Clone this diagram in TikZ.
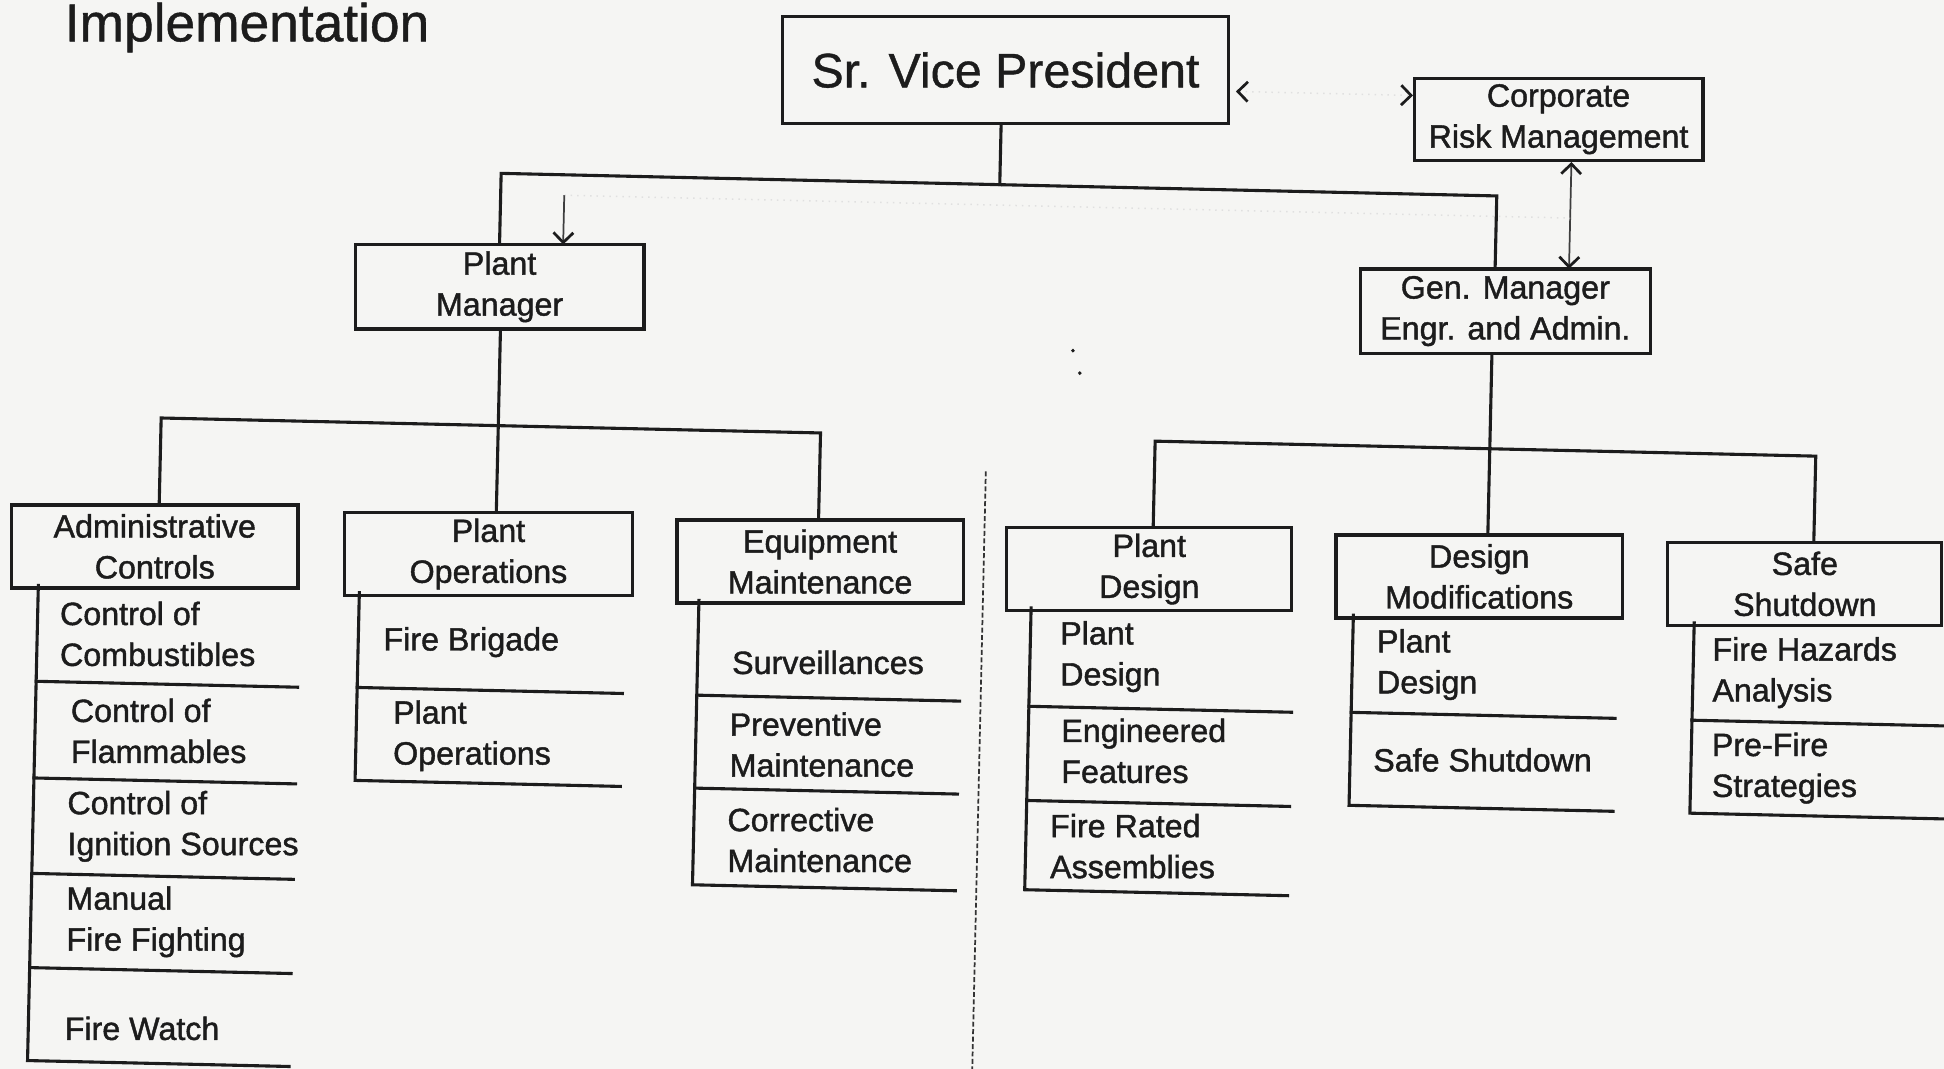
\documentclass[tikz,border=0pt]{standalone}
\usepackage{fontspec}
\setmainfont{Liberation Sans}
\newfontfamily\heavysans{Liberation Sans}[FakeBold=1.3]
\newfontfamily\midsans{Liberation Sans}[FakeBold=0.8]
\usetikzlibrary{arrows.meta}

\newcommand{\lblfont}{\heavysans\fontsize{13}{16.5}\selectfont}
\newcommand{\vpfont}{\midsans\fontsize{19.5}{23}\selectfont}
\newcommand{\ttlfont}{\midsans\fontsize{21.5}{25}\selectfont}

\definecolor{paper}{RGB}{245,245,243}
\definecolor{ink}{RGB}{28,28,28}

\tikzset{
  wire/.style={draw=ink, line width=1.25pt, line cap=rect},
  orgbox/.style={draw=ink, line width=1.3pt, fill=paper, align=center,
    inner sep=0pt, font=\lblfont, text=ink},
  item/.style={anchor=west, align=left, inner sep=0pt, font=\lblfont, text=ink},
  faintlink/.style={draw=black!12, line width=0.6pt, dotted},
  barb/.tip={Straight Barb[color=ink, line width=1.1pt, length=4pt, width=8pt]},
  thinlink/.style={draw=ink!85, line width=0.7pt},
  divider/.style={draw=ink!90, line width=0.7pt, dash pattern=on 2pt off 1pt}
}

\begin{document}
\begin{tikzpicture}[x=0.5pt, y=-0.5pt]
\useasboundingbox (0,0) rectangle (1568,862);
\clip (0,0) rectangle (1568,862);
\fill[paper] (0,0) rectangle (1568,862);

\begin{scope}[rotate around={-1.3:(784,431)}]

% heading
\node[anchor=base west, inner sep=0pt, font=\ttlfont, text=ink] (title)
  at (43,50) {Implementation};

% top level
\node[orgbox, font=\vpfont, minimum width=180pt, minimum height=43pt] (svp)
  at (802.5,56) {Sr. Vice President};
\node[orgbox, minimum width=116.5pt, minimum height=33pt] (crm)
  at (1249.4,85.5) {Corporate\\Risk Management};

% second level
\node[orgbox, minimum width=116.5pt, minimum height=34pt] (pm)
  at (398.5,240) {Plant\\Manager};
\node[orgbox, minimum width=117pt, minimum height=34pt] (gm)
  at (1210,241.2) {Gen. Manager\\Engr. and Admin.};

% third level
\node[orgbox, minimum width=115.5pt, minimum height=33.5pt] (ac)
  at (125.2,455.7) {Administrative\\Controls};
\node[orgbox, minimum width=116pt, minimum height=33.5pt] (po)
  at (394.4,455.7) {Plant\\Operations};
\node[orgbox, minimum width=115.5pt, minimum height=33.5pt] (eq)
  at (662,455.7) {Equipment\\Maintenance};
\node[orgbox, minimum width=115pt, minimum height=33.5pt] (pd)
  at (927.6,455.7) {Plant\\Design};
\node[orgbox, minimum width=115.5pt, minimum height=33.5pt] (dm)
  at (1193.8,455.7) {Design\\Modifications};
\node[orgbox, minimum width=110.5pt, minimum height=33.5pt] (ss)
  at (1456.5,455.7) {Safe\\Shutdown};

% reporting lines from the Sr. Vice President
\coordinate (j0) at (800,148.5);
\coordinate (jR) at (1201,148.5);
\draw[wire] (j0 |- svp.south) -- (j0);
\draw[wire] (pm.north) -- (pm.north |- j0) -- (jR) -- (jR |- gm.north);

% Plant Manager branch
\coordinate (kL) at (128,352);
\coordinate (kM) at (400,352);
\coordinate (kR) at (660,352);
\draw[wire] (kM |- pm.south) -- (kM |- po.north);
\draw[wire] (kL |- ac.north) -- (kL) -- (kR) -- (kR |- eq.north);

% Gen. Manager branch
\coordinate (mL) at (930,352.5);
\coordinate (mM) at (1200,352.5);
\coordinate (mR) at (1463,352.5);
\draw[wire] (mM |- gm.south) -- (mM |- dm.north);
\draw[wire] (mL |- pd.north) -- (mL) -- (mR) -- (mR |- ss.north);

% risk management links
\coordinate (lk) at (0,69);
\draw[faintlink, barb-barb] ([xshift=2.5pt]svp.east |- lk) -- (crm.west |- lk);
\coordinate (lv) at (1260.6,0);
\draw[thinlink, barb-barb] (crm.south -| lv) -- (gm.north -| lv);
\coordinate (fd) at (449,165);
\draw[faintlink] (fd) -- (fd -| lv);
\draw[thinlink, -barb] (fd) -- (fd |- pm.north);

% left / right divider
\coordinate (dv) at (794,380);
\draw[divider] (dv) -- (dv |- 0,890);

% stray marks
\fill[ink] (862,281) circle (1.6);
\fill[ink] (868,299) circle (1.6);

% Administrative Controls list
\draw[wire] (32,489.2) -- (32,872.6) -- (243,872.6);
\foreach \yy in {566.6,644.6,721.6,797.6} \draw[wire] (32,\yy) -- (243,\yy);
\node[item] (ac1) at (50,528)    {Control of\\Combustibles};
\node[item] (ac2) at (60.5,606)  {Control of\\Flammables};
\node[item] (ac3) at (59.5,683)  {Control of\\Ignition Sources};
\node[item] (ac4) at (60.5,760)  {Manual\\Fire Fighting};
\node[item] (ac5) at (61,846)    {Fire Watch};

% Plant Operations list
\draw[wire] (291,489.2) -- (291,640.7) -- (505,640.7);
\draw[wire] (291,565.7) -- (505,565.7);
\node[item] (po1) at (311,528.7)  {Fire Brigade};
\node[item] (po2) at (320.5,604)  {Plant\\Operations};

% Equipment Maintenance list
\draw[wire] (565,489.2) -- (565,718.7) -- (777,718.7);
\foreach \yy in {565.7,640.7} \draw[wire] (565,\yy) -- (777,\yy);
\node[item] (eq1) at (592.5,538.7) {Surveillances};
\node[item] (eq2) at (592,605)     {Preventive\\Maintenance};
\node[item] (eq3) at (592,682)     {Corrective\\Maintenance};

% Plant Design list
\draw[wire] (833,489.2) -- (833,716.6) -- (1045,716.6);
\foreach \yy in {568.6,644.6} \draw[wire] (833,\yy) -- (1045,\yy);
\node[item] (pd1) at (857,528)    {Plant\\Design};
\node[item] (pd2) at (859.6,604)  {Engineered\\Features};
\node[item] (pd3) at (852.3,681)  {Fire Rated\\Assemblies};

% Design Modifications list
\draw[wire] (1093,489.2) -- (1093,642.6) -- (1306,642.6);
\draw[wire] (1093,567.6) -- (1306,567.6);
\node[item] (dm1) at (1112.6,528.6) {Plant\\Design};
\node[item] (dm2) at (1111.3,605.6) {Safe Shutdown};

% Safe Shutdown list
\draw[wire] (1368,489.2) -- (1368,642.7) -- (1600,642.7);
\draw[wire] (1368,567.7) -- (1600,567.7);
\node[item] (ss1) at (1383.2,529) {Fire Hazards\\Analysis};
\node[item] (ss2) at (1384.5,606) {Pre-Fire\\Strategies};

\end{scope}
\end{tikzpicture}
\end{document}
